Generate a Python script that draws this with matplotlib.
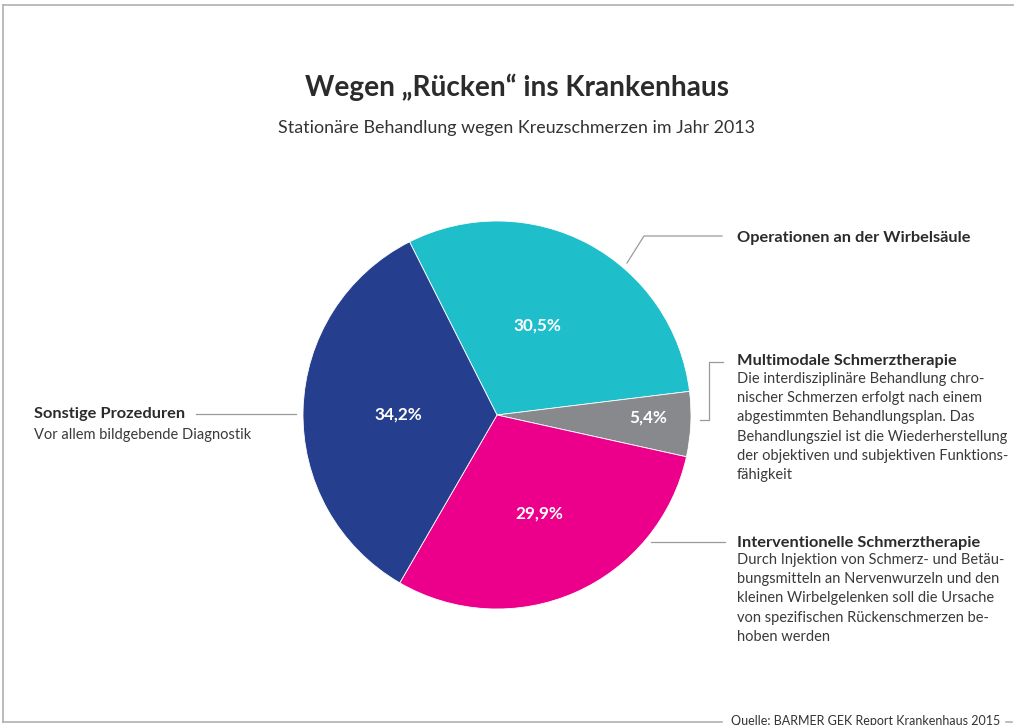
import matplotlib
matplotlib.use("Agg")
import matplotlib.pyplot as plt
import numpy as np

plt.rcParams['font.family'] = ['Lato', 'DejaVu Sans']

# ---- data ----
categories = ["Operationen an der Wirbelsäule", "Multimodale Schmerztherapie",
              "Interventionelle Schmerztherapie", "Sonstige Prozeduren"]
values = [30.5, 5.4, 29.9, 34.2]
pct_labels = ["30,5%", "5,4%", "29,9%", "34,2%"]
colors = ["#1EBECA", "#88898D", "#EC008B", "#253F8E"]
descriptions = [
    "",
    "Die interdisziplinäre Behandlung chro-\nnischer Schmerzen erfolgt nach einem\nabgestimmten Behandlungsplan. Das\nBehandlungsziel ist die Wiederherstellung\nder objektiven und subjektiven Funktions-\nfähigkeit",
    "Durch Injektion von Schmerz- und Betäu-\nbungsmitteln an Nervenwurzeln und den\nkleinen Wirbelgelenken soll die Ursache\nvon spezifischen Rückenschmerzen be-\nhoben werden",
    "Vor allem bildgebende Diagnostik",
]
title = "Wegen „Rücken“ ins Krankenhaus"
subtitle = "Stationäre Behandlung wegen Kreuzschmerzen im Jahr 2013"
source = "Quelle: BARMER GEK Report Krankenhaus 2015"

W, H = 1014, 725
fig = plt.figure(figsize=(W / 100, H / 100), dpi=100)
ax = fig.add_axes([0, 0, 1, 1])

def Y(y):
    return H - y

cx, cy, R = 497, 415, 194
start = 116.8
wedges, _ = ax.pie(values, colors=colors, startangle=start, counterclock=False,
                   center=(cx, Y(cy)), radius=R,
                   wedgeprops=dict(edgecolor='white', linewidth=0.6))
ax.set_xlim(0, W)
ax.set_ylim(0, H)
ax.set_aspect('equal')
ax.axis('off')

# percent labels
dist = [0.505, 0.78, 0.553, 0.51]
ang_off = [3.6, 1.8, -0.8, 1.6]
for w, lab, d, off in zip(wedges, pct_labels, dist, ang_off):
    ang = np.deg2rad((w.theta1 + w.theta2) / 2 + off)
    x = cx + d * R * np.cos(ang)
    y = Y(cy) + d * R * np.sin(ang)
    ax.text(x, y, lab, color='white', fontsize=12.3, fontweight='bold',
            ha='center', va='center')

# titles
tc = '#2b2b2b'
ax.text(517, Y(87), title, fontsize=20.2, fontweight='bold', color=tc,
        ha='center', va='center')
ax.text(517, Y(128), subtitle, fontsize=12.9, color='#333333',
        ha='center', va='center')

lc = '#9a9a9a'
# leader lines
ax.plot([627, 644, 722], [Y(263), Y(236), Y(236)], color=lc, lw=0.9)
ax.plot([700, 709, 709, 723], [Y(420), Y(420), Y(362), Y(362)], color=lc, lw=0.9)
ax.plot([651, 725], [Y(542), Y(542)], color=lc, lw=0.9)
ax.plot([196, 296], [Y(414), Y(414)], color=lc, lw=0.9)

# category labels
hc = '#2b2b2b'
bc = '#3a3a3a'
hs = 11.8
bs = 10.5
ls = 1.47
ax.text(737, Y(238), categories[0], fontsize=hs, fontweight='bold', color=hc,
        ha='left', va='center')
ax.text(737, Y(361), categories[1], fontsize=hs, fontweight='bold', color=hc,
        ha='left', va='center')
ax.text(737, Y(372), descriptions[1], fontsize=bs, color=bc, ha='left',
        va='top', linespacing=ls)
ax.text(737, Y(543), categories[2], fontsize=hs, fontweight='bold', color=hc,
        ha='left', va='center')
ax.text(737, Y(553), descriptions[2], fontsize=bs, color=bc, ha='left',
        va='top', linespacing=ls)
ax.text(34, Y(414), categories[3], fontsize=hs, fontweight='bold', color=hc,
        ha='left', va='center')
ax.text(34, Y(435), descriptions[3], fontsize=bs, color=bc, ha='left',
        va='center')

# frame
fc = '#b0b0b0'
ax.plot([3, W], [Y(5), Y(5)], color=fc, lw=1.2)
ax.plot([3, 3], [Y(5), Y(722)], color=fc, lw=1.2)
ax.plot([3, 722], [Y(722), Y(722)], color=fc, lw=1.2)
ax.plot([1006, 1012], [Y(722), Y(722)], color=fc, lw=1.2)
ax.text(731, Y(721), source, fontsize=9.0, color='#333333', ha='left',
        va='center')

fig.savefig('out.png', dpi=100)
